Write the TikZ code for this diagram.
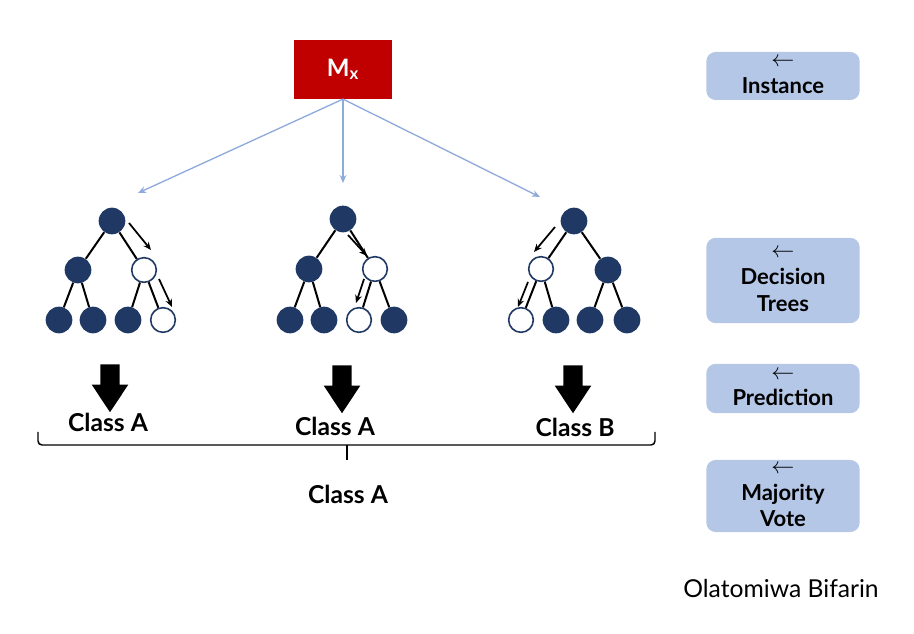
\documentclass[tikz,border=0pt]{standalone}
\usepackage{fontspec}
\setmainfont{Lato}
\usetikzlibrary{positioning,arrows.meta,shapes.arrows,calc}
\definecolor{rojo}{HTML}{C00000}
\definecolor{marino}{HTML}{203864}
\definecolor{celeste}{HTML}{B4C7E7}
\definecolor{azulclaro}{HTML}{8FAADC}

\begin{document}
\begin{tikzpicture}[x=0.75pt, y=-0.75pt, >={Stealth[length=6pt,width=5pt]},
      lleno/.style={circle, fill=marino, minimum size=20pt, inner sep=0pt},
      hueco/.style={circle, draw=marino, line width=1.2pt, fill=white,
                    minimum size=18.5pt, inner sep=0pt},
      rama/.style={line width=1.5pt},
      camino/.style={line width=1.3pt, ->},
      etiq/.style={fill=celeste, rounded corners=7pt, text width=115pt, align=center,
                   inner sep=0pt, font=\fontsize{16.5}{20}\selectfont\bfseries},
      flecha/.style={single arrow, fill=black, shape border rotate=270,
                     minimum height=36pt, single arrow head extend=6.5pt,
                     single arrow tip angle=67, inner sep=7pt},
      clase/.style={font=\fontsize{18.5}{22}\selectfont\bfseries}]
    \useasboundingbox (0,0) rectangle (914,634);
    % instancia
    \node[fill=rojo, text=white, minimum width=73.5pt, minimum height=44pt,
          font=\fontsize{18}{20}\selectfont\bfseries] (mx) at (343,69.5) {M\textsubscript{x}};
    % arbol 1
    \node[lleno] (r1) at (112,221) {};
    \node[lleno] (a1) at (78,270) {};
    \node[hueco] (b1) at (144,270) {};
    \node[lleno] (h11) at (59,320) {};
    \node[lleno] (h12) at (93,320) {};
    \node[lleno] (h13) at (128,320) {};
    \node[hueco] (h14) at (163,320) {};
    % arbol 2
    \node[lleno] (r2) at (343,219) {};
    \node[lleno] (a2) at (309,269) {};
    \node[hueco] (b2) at (375,269) {};
    \node[lleno] (h21) at (290,320) {};
    \node[lleno] (h22) at (324,320) {};
    \node[hueco] (h23) at (359,320) {};
    \node[lleno] (h24) at (394,320) {};
    % arbol 3
    \node[lleno] (r3) at (574,221) {};
    \node[hueco] (a3) at (541,269) {};
    \node[lleno] (b3) at (608,270) {};
    \node[hueco] (h31) at (521,320) {};
    \node[lleno] (h32) at (556,320) {};
    \node[lleno] (h33) at (590,320) {};
    \node[lleno] (h34) at (627,320) {};
    \foreach \t in {1,2,3} {
      \draw[rama] (r\t) -- (a\t);
      \draw[rama] (r\t) -- (b\t);
      \draw[rama] (a\t) -- (h\t1);
      \draw[rama] (a\t) -- (h\t2);
      \draw[rama] (b\t) -- (h\t3);
      \draw[rama] (b\t) -- (h\t4);
    }
    % recorridos
    \coordinate (p1) at (129,223); \coordinate (q1) at (151,250);
    \coordinate (p2) at (159,279); \coordinate (q2) at (172,307);
    \coordinate (p3) at (348,235); \coordinate (q3) at (367,256);
    \coordinate (p4) at (364,279); \coordinate (q4) at (356,303);
    \coordinate (p5) at (555,227); \coordinate (q5) at (534,252);
    \coordinate (p6) at (528,282); \coordinate (q6) at (518,307);
    \foreach \i in {1,...,6} \draw[camino] (p\i) -- (q\i);
    % reparto de la instancia
    \coordinate (e1) at (138,193);
    \coordinate (e2) at (343,183);
    \coordinate (e3) at (540,197);
    \foreach \e in {e1,e2,e3}
      \draw[azulclaro, line width=1pt, -{Stealth[length=6pt,width=5pt]}] (mx.south) -- (\e);
    % predicciones
    \node[flecha] (f1) at (110,381) {};
    \node[flecha] (f2) at (342,382) {};
    \node[flecha] (f3) at (573,382) {};
    \node[clase] (c1) at (108,422) {Class A};
    \node[clase] (c2) at (335,426) {Class A};
    \node[clase] (c3) at (575,427) {Class B};
    % voto
    \draw[line width=1.1pt, rounded corners=3pt] (38,432) -- (38,445) -- (347,445) -- (655,445) -- (655,432);
    \draw[line width=1.1pt] (347,445) -- (347,460);
    \node[clase] (cf) at (348,494) {Class A};
    % leyenda
    \node[etiq, minimum height=36pt] (l1) at (783,76) {$\leftarrow$\\Instance};
    \node[etiq, minimum height=64pt] (l2) at (783,280.5) {$\leftarrow$\\Decision\\Trees};
    \node[etiq, minimum height=37pt] (l3) at (783,388.5) {$\leftarrow$\\Prediction};
    \node[etiq, minimum height=54pt] (l4) at (783,496) {$\leftarrow$\\Majority\\Vote};
    \node[font=\fontsize{18.5}{20}\selectfont] (autor) at (781,589) {Olatomiwa Bifarin};
  \end{tikzpicture}
\end{document}
